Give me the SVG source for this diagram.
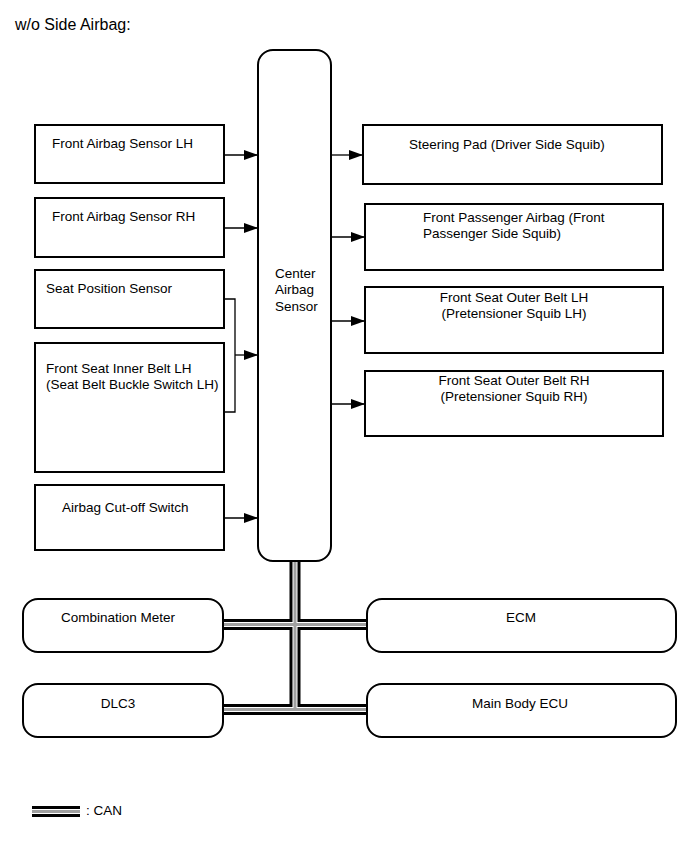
<svg xmlns="http://www.w3.org/2000/svg" width="691" height="854" viewBox="0 0 691 854">
<style>
text{font-family:"Liberation Sans",Arial,sans-serif;font-size:13.5px;fill:#000}
.title{font-size:16px}
.box{fill:#fff;stroke:#000;stroke-width:2}
.c{text-anchor:middle}
.conn{stroke:#000;stroke-width:1.3;fill:none}
.arr{marker-end:url(#ah)}
.canB{stroke:#000;stroke-width:11;fill:none}
.canW{stroke:#fff;stroke-width:5;fill:none}
.canG{stroke:#a0a0a0;stroke-width:3;fill:none}
</style>
<defs>
<marker id="ah" markerUnits="userSpaceOnUse" markerWidth="14" markerHeight="10" refX="14" refY="5" orient="auto"><path d="M0,0 L14,5 L0,10 z" fill="#000"/></marker>
</defs>
<rect width="691" height="854" fill="#fff"/>
<text class="title" x="15" y="30">w/o Side Airbag:</text>

<g id="connectors">
<line class="conn arr" x1="224" y1="155" x2="258" y2="155"/>
<line class="conn arr" x1="224" y1="228" x2="258" y2="228"/>
<path class="conn" d="M224,299 H235 V412 H224"/>
<line class="conn arr" x1="235" y1="355" x2="258" y2="355"/>
<line class="conn arr" x1="224" y1="518" x2="258" y2="518"/>
<line class="conn arr" x1="331" y1="155" x2="363" y2="155"/>
<line class="conn arr" x1="331" y1="237" x2="365" y2="237"/>
<line class="conn arr" x1="331" y1="321" x2="365" y2="321"/>
<line class="conn arr" x1="331" y1="404" x2="365" y2="404"/>
<g id="can">
<path class="canB" d="M295,561 V709.5 M223,624.5 H367 M223,709.5 H367"/>
<path class="canW" d="M295,561 V709.5 M223,624.5 H367 M223,709.5 H367"/>
<path class="canG" d="M295,561 V709.5 M223,624.5 H367 M223,709.5 H367"/>
</g>
</g>

<g id="center-airbag-sensor">
<rect class="box" x="258" y="50" width="73" height="511" rx="15" ry="15"/>
<text x="275" y="278">Center</text>
<text x="275" y="294">Airbag</text>
<text x="275" y="311">Sensor</text>
</g>

<g id="front-airbag-sensor-lh">
<rect class="box" x="35" y="125" width="189" height="58"/>
<text x="52" y="148">Front Airbag Sensor LH</text>
</g>
<g id="front-airbag-sensor-rh">
<rect class="box" x="35" y="198" width="189" height="59"/>
<text x="52" y="221">Front Airbag Sensor RH</text>
</g>
<g id="seat-position-sensor">
<rect class="box" x="35" y="270" width="189" height="58"/>
<text x="46" y="293">Seat Position Sensor</text>
</g>
<g id="front-seat-inner-belt-lh">
<rect class="box" x="35" y="343" width="189" height="129"/>
<text x="46" y="373">Front Seat Inner Belt LH</text>
<text x="46" y="389">(Seat Belt Buckle Switch LH)</text>
</g>
<g id="airbag-cutoff-switch">
<rect class="box" x="35" y="485" width="189" height="65"/>
<text x="62" y="512">Airbag Cut-off Switch</text>
</g>

<g id="steering-pad">
<rect class="box" x="363" y="125" width="299" height="59"/>
<text x="409" y="149">Steering Pad (Driver Side Squib)</text>
</g>
<g id="front-passenger-airbag">
<rect class="box" x="365" y="204" width="298" height="66"/>
<text x="423" y="222">Front Passenger Airbag (Front</text>
<text x="423" y="238">Passenger Side Squib)</text>
</g>
<g id="front-seat-outer-belt-lh">
<rect class="box" x="365" y="287" width="298" height="66"/>
<text class="c" x="514" y="302">Front Seat Outer Belt LH</text>
<text class="c" x="514" y="318">(Pretensioner Squib LH)</text>
</g>
<g id="front-seat-outer-belt-rh">
<rect class="box" x="365" y="371" width="298" height="65"/>
<text class="c" x="514" y="385">Front Seat Outer Belt RH</text>
<text class="c" x="514" y="401">(Pretensioner Squib RH)</text>
</g>

<g id="combination-meter">
<rect class="box" x="23" y="599" width="200" height="53" rx="15" ry="15"/>
<text class="c" x="118" y="622">Combination Meter</text>
</g>
<g id="dlc3">
<rect class="box" x="23" y="684" width="200" height="53" rx="15" ry="15"/>
<text class="c" x="118" y="708">DLC3</text>
</g>
<g id="ecm">
<rect class="box" x="367" y="599" width="309" height="53" rx="15" ry="15"/>
<text class="c" x="521" y="622">ECM</text>
</g>
<g id="main-body-ecu">
<rect class="box" x="367" y="684" width="309" height="53" rx="15" ry="15"/>
<text class="c" x="520" y="708">Main Body ECU</text>
</g>

<g id="legend">
<path class="canB" d="M32,811.5 H80"/>
<path class="canW" d="M32,811.5 H80"/>
<path class="canG" d="M32,811.5 H80"/>
<text x="86" y="815">: CAN</text>
</g>
</svg>
